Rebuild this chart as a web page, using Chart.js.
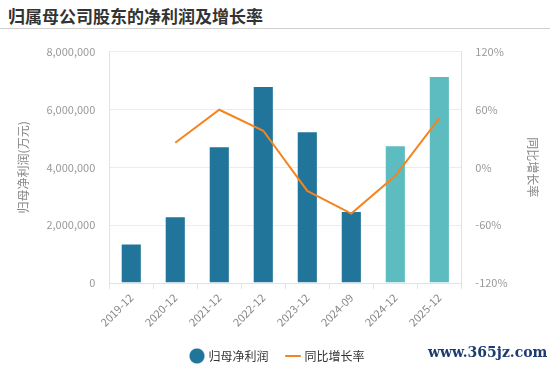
<!DOCTYPE html>
<html>
<head>
<meta charset="utf-8">
<script src="https://cdn.jsdelivr.net/npm/chart.js"></script>
<style>
  body { margin: 0; background: #fff; font-family: "Noto Sans CJK SC", "Noto Sans", sans-serif; }
  #wrap { position: relative; width: 550px; height: 374px; overflow: hidden; }
  #title { position: absolute; left: 8px; top: 3px; font-size: 17px; font-weight: bold; color: #333; }
  #sep { position: absolute; left: 0; top: 28px; width: 550px; height: 1px; background: #d0d0d0; }
  #box { position: absolute; left: 0; top: 31px; width: 550px; height: 343px; }
  #mark { position: absolute; left: 428px; top: 344px; font-family: "DejaVu Serif", "Liberation Serif", serif; font-size: 14px; font-weight: bold; color: #1d3c70; }
</style>
</head>
<body>
<div id="wrap">
  <div id="title">归属母公司股东的净利润及增长率</div>
  <div id="sep"></div>
  <div id="box"><canvas id="chart"></canvas></div>
  <div id="mark">www.365jz.com</div>
</div>
<script>
// 数据
const periods = ['2019-12', '2020-12', '2021-12', '2022-12', '2023-12', '2024-09', '2024-12', '2025-12'];
const netProfit = [1370000, 2310000, 4730000, 6810000, 5250000, 2490000, 4760000, 7160000];
const growthRate = [null, 25.5, 59.7, 37.9, -24.4, -48, -8.8, 51];
const isForecast = [false, false, false, false, false, false, true, true];

const leftTicks = [0, 2000000, 4000000, 6000000, 8000000];
const rightTicks = [-120, -60, 0, 60, 120];

const DARK = '#21759b';
const TEAL = '#5dbcbf';
const ORANGE = '#f5841f';
const tickFont = { family: '"Noto Sans CJK SC", sans-serif', size: 11 };

const barColors = isForecast.map(f => f ? TEAL : DARK);

new Chart(document.getElementById('chart'), {
    data: {
        labels: periods,
        datasets: [
            {
                type: 'line',
                label: '同比增长率',
                data: growthRate,
                yAxisID: 'yRight',
                borderColor: ORANGE,
                backgroundColor: ORANGE,
                borderWidth: 2,
                pointRadius: 0,
                pointHoverRadius: 0,
                tension: 0,
                pointStyle: 'line',
                order: 0
            },
            {
                type: 'bar',
                label: '归母净利润',
                data: netProfit,
                yAxisID: 'yLeft',
                backgroundColor: barColors,
                borderColor: 'rgba(255,255,255,0.35)',
                borderWidth: 1,
                barPercentage: 0.48,
                categoryPercentage: 1,
                pointStyle: 'circle',
                order: 1
            }
        ]
    },
    options: {
        responsive: true,
        maintainAspectRatio: false,
        animation: false,
        layout: { padding: { left: 12, right: 6, top: 2, bottom: 2 } },
        plugins: {
            tooltip: { enabled: false },
            legend: {
                position: 'bottom',
                reverse: true,
                labels: {
                    usePointStyle: true,
                    boxWidth: 11,
                    boxHeight: 11,
                    padding: 19,
                    color: '#333',
                    font: { family: '"Noto Sans CJK SC", sans-serif', size: 12 }
                }
            }
        },
        scales: {
            x: {
                offset: true,
                grid: { offset: true, drawOnChartArea: false, drawTicks: true, tickLength: 6, color: '#dde3ee' },
                border: { color: '#dde3ee' },
                ticks: { color: '#888', font: tickFont, maxRotation: 45, minRotation: 45, padding: 2 }
            },
            yLeft: {
                position: 'left',
                min: 0,
                max: 8000000,
                afterBuildTicks: axis => { axis.ticks = leftTicks.map(v => ({ value: v })); },
                grid: { color: '#ececec', drawTicks: false },
                border: { color: '#dde3ee' },
                ticks: {
                    color: '#999',
                    font: tickFont,
                    padding: 14,
                    callback: v => v.toLocaleString('en-US')
                },
                title: {
                    display: true,
                    text: '归母净利润(万元)',
                    color: '#888',
                    font: { family: '"Noto Sans CJK SC", sans-serif', size: 12 },
                    padding: { bottom: 2 }
                }
            },
            yRight: {
                position: 'right',
                min: -120,
                max: 120,
                afterBuildTicks: axis => { axis.ticks = rightTicks.map(v => ({ value: v })); },
                grid: { drawOnChartArea: false, drawTicks: false },
                border: { color: '#dde3ee' },
                ticks: {
                    color: '#999',
                    font: tickFont,
                    padding: 14,
                    callback: v => v + '%'
                },
                title: {
                    display: true,
                    text: '同比增长率',
                    color: '#888',
                    font: { family: '"Noto Sans CJK SC", sans-serif', size: 12 },
                    padding: { top: 4 }
                }
            }
        }
    }
});
</script>
</body>
</html>
